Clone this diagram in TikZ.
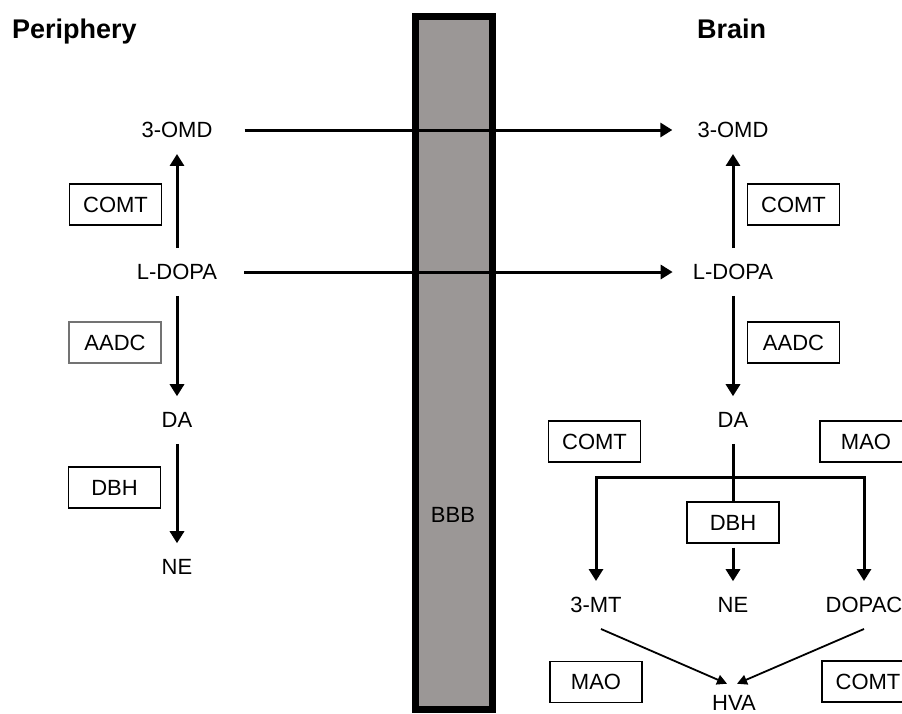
\documentclass[tikz,border=0pt]{standalone}
\usepackage{fontspec}
\setmainfont{Liberation Sans}
\usetikzlibrary{arrows.meta}
\definecolor{bbbgray}{RGB}{155,151,150}
\begin{document}
\begin{tikzpicture}[x=1pt,y=-1pt,
  txt/.style={font=\fontsize{22}{26}\selectfont, inner xsep=0pt, inner ysep=16pt},
  enz/.style={draw, line width=1.2pt, minimum width=92pt, minimum height=41pt, inner sep=0pt, font=\fontsize{22}{26}\selectfont},
  head/.style={font=\bfseries\fontsize{27}{32}\selectfont, anchor=base west, inner sep=0pt},
  arr/.style={line width=3pt, -{Triangle[length=12pt,width=14pt]}},
  thinarr/.style={line width=1.8pt, -{Triangle[length=10pt,width=10pt]}}
]
\useasboundingbox (0,0) rectangle (902,713);
\clip (0,0) rectangle (902,713);

% blood-brain barrier
\node[draw, line width=7pt, fill=bbbgray, minimum width=77pt, minimum height=693pt, inner sep=0pt] (bbb) at (454,363) {};
\node[txt] (bbbl) at (453,515) {BBB};

% headings
\node[head] (hPer) at (12,38) {Periphery};
\node[head] (hBrain) at (697,38) {Brain};

% periphery
\node[txt] (pOMD) at (177,130) {3-OMD};
\node[txt] (pDOPA) at (177,272) {L-DOPA};
\node[txt] (pDA) at (177,420) {DA};
\node[txt] (pNE) at (177,567) {NE};
\node[enz] (pCOMT) at (115.5,204.5) {COMT};
\node[enz, draw=black!55] (pAADC) at (115,342.5) {AADC};
\node[enz] (pDBH) at (114.5,487.5) {DBH};

\draw[arr] (pDOPA.north) -- (pOMD.south);
\draw[arr] (pDOPA.south) -- (pDA.north);
\draw[arr] (pDA.south) -- (pNE.north);

% brain
\node[txt] (bOMD) at (733,130) {3-OMD};
\node[txt] (bDOPA) at (733,272) {L-DOPA};
\node[txt] (bDA) at (733,420) {DA};
\node[txt] (b3MT) at (596,605) {3-MT};
\node[txt] (bNE) at (733,605) {NE};
\node[txt] (bDOPAC) at (864,605) {DOPAC};
\node[txt] (bHVA) at (734,702.5) {HVA};
\node[enz] (bCOMTa) at (793.5,204.5) {COMT};
\node[enz] (bAADC) at (793.5,342.5) {AADC};
\node[enz] (bCOMTb) at (594.5,441.5) {COMT};
\node[enz] (bMAOa) at (866,441.5) {MAO};
\node[enz] (bDBH) at (733,522.5) {DBH};
\node[enz] (bMAOb) at (596,682) {MAO};
\node[enz] (bCOMTc) at (868,681.5) {COMT};

% crossing the barrier
\draw[arr, shorten <=32pt, shorten >=25pt] (pOMD.east) -- (bOMD.west);
\draw[arr, shorten <=27pt, shorten >=20pt] (pDOPA.east) -- (bDOPA.west);

\draw[arr] (bDOPA.north) -- (bOMD.south);
\draw[arr] (bDOPA.south) -- (bDA.north);
\draw[line width=3pt] (bDA.south) -- (bDBH.north);
\coordinate (fork) at (733,477);
\draw[arr] (fork) -| (b3MT);
\draw[arr] (fork) -| (bDOPAC);
\draw[arr, shorten <=4pt] (bDBH.south) -- (bNE.north);
\draw[thinarr] ([xshift=5pt]b3MT.south) -- ([xshift=-7pt,yshift=-5pt]bHVA.north);
\draw[thinarr] (bDOPAC.south) -- ([xshift=3pt,yshift=-5pt]bHVA.north);
\end{tikzpicture}
\end{document}
